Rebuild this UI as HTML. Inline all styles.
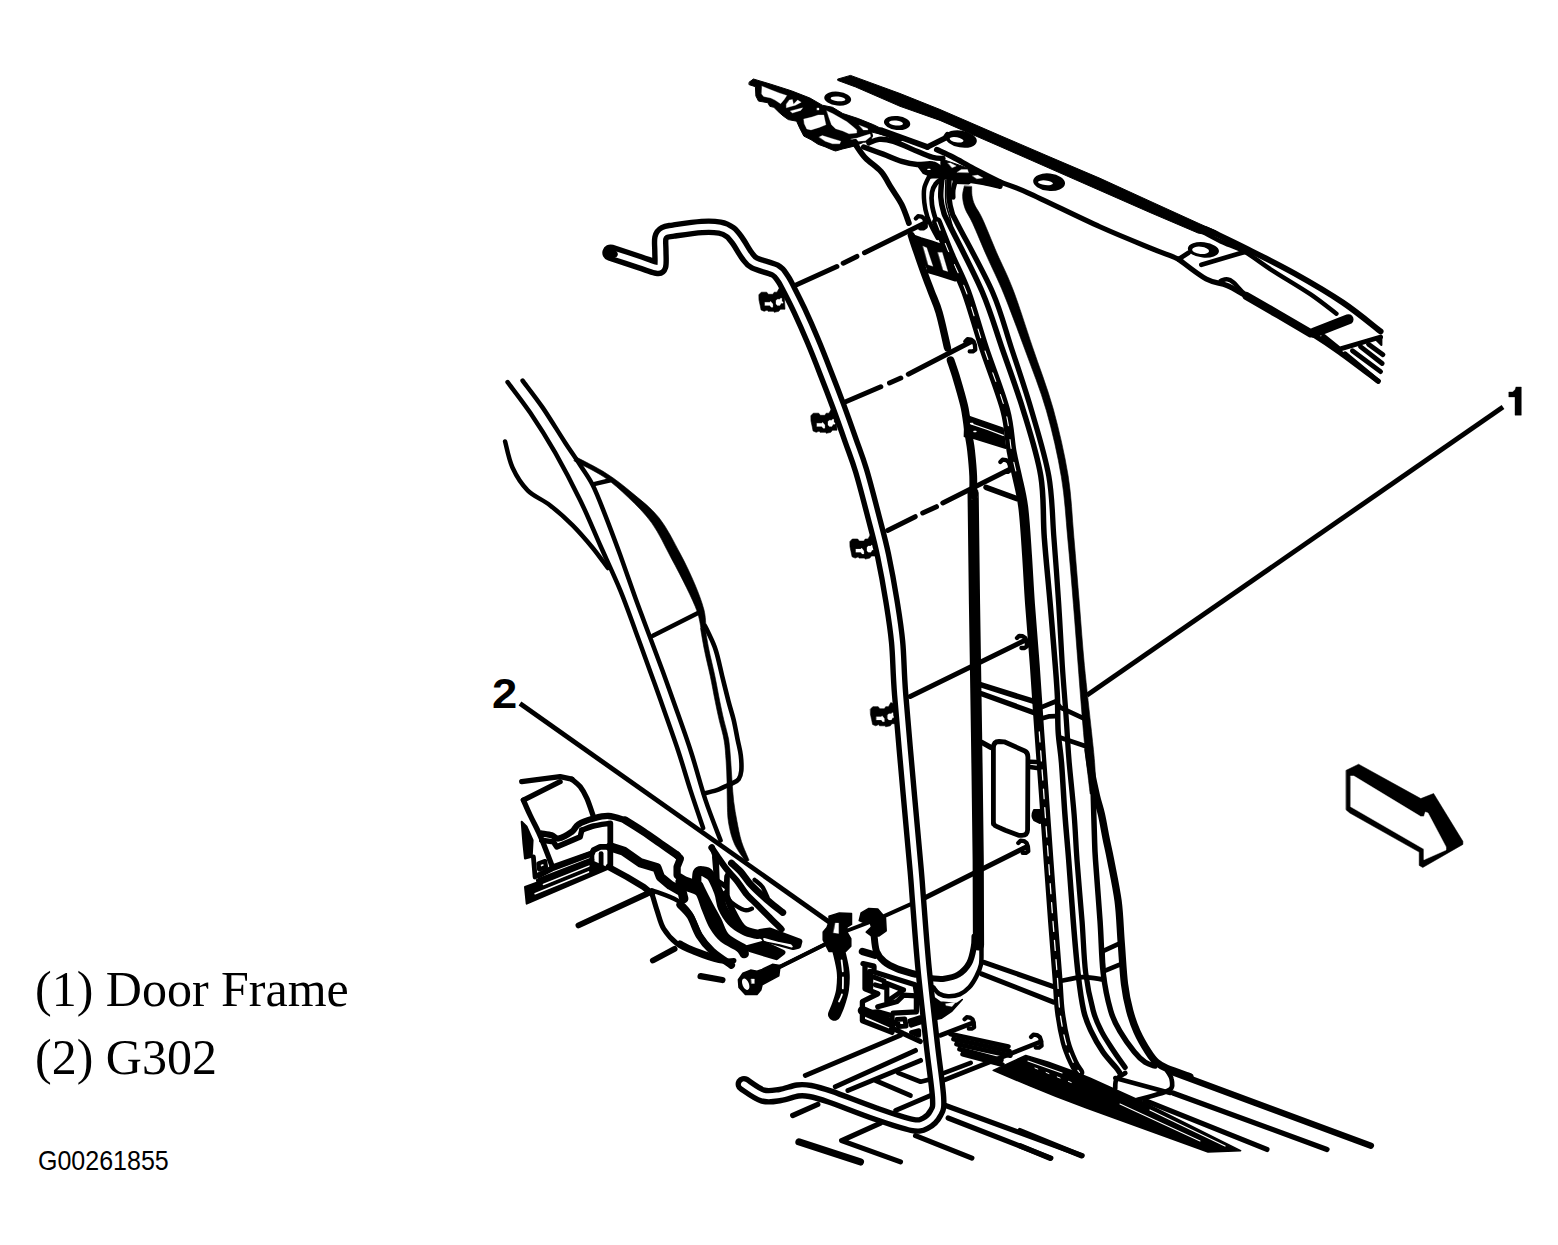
<!DOCTYPE html>
<html><head><meta charset="utf-8">
<style>
html,body{margin:0;padding:0;background:#fff;}
body{width:1558px;height:1245px;overflow:hidden;position:relative;}
svg{position:absolute;left:0;top:0;}
.t{position:absolute;white-space:nowrap;color:#000;line-height:1;}
.serif{font-family:"Liberation Serif",serif;}
.sans{font-family:"Liberation Sans",sans-serif;}
</style></head><body>
<svg width="1558" height="1245" viewBox="0 0 1558 1245" fill="none" stroke="#000" stroke-width="3.5" stroke-linecap="round" stroke-linejoin="round">
<path d="M838 79 L850.5 75.4 L900 93.5 L940 109.5 L1000 135.5 L1050 157 L1100 178.3 L1150 201.2 L1200 224 L1216 231 L1214 236 L1198 233 L1150 212.5 L1100 190.5 L1050 168.5 L1000 146.5 L940 120.4 L900 106.3 L855.7 87 L838 80.5 Z" stroke-width="1" fill="#000" stroke="#000" />
<path d="M1205 229 C1206.5 229.7 1207.4 229.7 1214.3 233 C1221.2 236.3 1233 241.8 1246.4 248.6 C1259.8 255.3 1278.5 264.5 1294.6 273.5 C1310.7 282.5 1328.5 292.9 1342.8 302.5 C1357.1 312.1 1374.3 326.6 1380.6 331.4" stroke-width="5.8999999999999995" fill="none" stroke="#000" />
<path d="M999.9 182 C1004.7 183.8 1011.8 185.6 1028.5 193.1 C1045.2 200.6 1079.7 217.7 1099.9 226.8 C1120.2 235.9 1138.2 243 1150 247.8 C1161.8 252.7 1166.1 254 1170.9 255.9 C1175.7 257.9 1177.7 258.9 1179 259.5" stroke-width="5.1" fill="none" stroke="#000" />
<path d="M1179 259.5 C1183.5 262.8 1198.2 274.7 1206.2 279 C1214.2 283.3 1220.3 282.7 1227 285.5 C1233.7 288.3 1237.8 291.3 1246.4 296 C1255 300.7 1267.8 307.5 1278.5 313.7 C1289.2 319.9 1300.5 326.6 1310.7 333 C1320.9 339.4 1328.3 344.3 1339.6 352.3 C1350.8 360.3 1371.8 376.4 1378.2 381.2" stroke-width="5.3" fill="none" stroke="#000" />
<ellipse cx="837.7" cy="98.6" rx="13.5" ry="7" transform="rotate(6 837.7 98.6)" fill="#000" stroke="none" stroke-width="0"/>
<ellipse cx="838" cy="98.9" rx="7.4" ry="2.3" transform="rotate(6 838 98.9)" fill="#fff" stroke="none" stroke-width="0"/>
<ellipse cx="897.1" cy="123" rx="13.2" ry="7" transform="rotate(6 897.1 123)" fill="#000" stroke="none" stroke-width="0"/>
<ellipse cx="896" cy="123" rx="7" ry="2.5" transform="rotate(6 896 123)" fill="#fff" stroke="none" stroke-width="0"/>
<ellipse cx="961" cy="139" rx="16" ry="8.5" transform="rotate(10 961 139)" fill="#000" stroke="none" stroke-width="0"/>
<ellipse cx="956.6" cy="139.8" rx="7" ry="2.5" transform="rotate(10 956.6 139.8)" fill="#fff" stroke="none" stroke-width="0"/>
<ellipse cx="1049.1" cy="182.2" rx="16" ry="8.7" transform="rotate(6 1049.1 182.2)" fill="#000" stroke="none" stroke-width="0"/>
<ellipse cx="1045.5" cy="182.8" rx="7.5" ry="2.3" transform="rotate(6 1045.5 182.8)" fill="#fff" stroke="none" stroke-width="0"/>
<ellipse cx="1203.4" cy="249.9" rx="15.6" ry="7.7" transform="rotate(6 1203.4 249.9)" fill="#000" stroke="none" stroke-width="0"/>
<ellipse cx="1200.6" cy="250.3" rx="8.5" ry="3.6" transform="rotate(6 1200.6 250.3)" fill="#fff" stroke="none" stroke-width="0"/>
<path d="M1198.2 229.4 C1201.9 231.4 1212.9 237.7 1220.7 241.4 C1228.5 245.2 1236.2 247 1244.8 251.9 C1253.4 256.7 1261.1 263.2 1272.1 270.3 C1283.1 277.4 1300 287.2 1310.7 294.4 C1321.4 301.7 1332.1 310.5 1336.4 313.7" stroke-width="4.5" fill="none" stroke="#000" />
<path d="M1348.4 319.3 L1313.9 332.7" stroke-width="10.3" fill="none" stroke="#000" />
<path d="M1312.3 333 C1306.7 329.8 1289.5 320 1278.5 313.7 C1267.6 307.4 1253.9 300.5 1246.4 295.2 C1238.9 290 1236.8 285.1 1233.5 282.4 C1230.3 279.7 1229.3 279.4 1227.1 279.2 C1225 278.9 1221.8 280.5 1220.7 280.8" stroke-width="4.5" fill="none" stroke="#000" />
<path d="M1246.4 296 L1278.5 314.5 L1310.7 333.3" stroke-width="8.3" fill="none" stroke="#000" />
<path d="M1201.4 264.7 L1236.8 254.3 L1244.8 251.9" stroke-width="4.8" fill="none" stroke="#000" />
<path d="M1178.9 259.1 L1188.6 252.7" stroke-width="4.8" fill="none" stroke="#000" />
<path d="M1323.5 336.2 L1339.6 349.1 L1380.6 337" stroke-width="4.8" fill="none" stroke="#000" />
<path d="M1374.9 338.6 L1381.4 336.5 L1381.4 345 Z" stroke-width="2" fill="#000" stroke="#000" />
<path d="M1345.2 353.9 L1378.1 381.2" stroke-width="4.8" fill="none" stroke="#000" />
<path d="M1352.4 350.7 L1380.6 371.6" stroke-width="4.8" fill="none" stroke="#000" />
<path d="M1360.5 346.7 L1382.2 363.5" stroke-width="4.8" fill="none" stroke="#000" />
<path d="M1368.5 344.2 L1383 354.7" stroke-width="4.8" fill="none" stroke="#000" />
<path d="M749.3 82.1 L753.4 79 L770.8 84.2 L791.4 90.8 L809.9 98 L822.3 105.2 L832.5 107.3 L842.8 113.5 L858.3 118.6 L873.7 124.8 L884 129.9 L884 135.1 L871.6 132 L872.6 136.1 L869.6 141.7 L863.4 142.3 L855.2 145.9 L842.8 148.9 L835.6 151 L832.5 150 L825.3 146.9 L818.1 144.3 L811 139.7 L803.8 136.1 L799.6 127.9 L796.6 121.2 L788.3 119.6 L783.2 116 L779.1 112.4 L773.9 107.3 L769.8 106.3 L767.8 102.7 L758.5 101.1 L755.9 96 L755.4 86.7 L749.3 84.7 Z" stroke-width="1" fill="#000" stroke="#000" />
<path d="M762.1 86.2 L770.8 89.8 L779.1 92.9 L786.8 95.5 L784.2 99.6 L780.6 103.7 L775 100.1 L770.8 98 L763.7 96.5 L761.6 93.9 Z" stroke-width="0.3" fill="#fff" stroke="#fff" />
<path d="M789.4 100.1 L792.4 99.6 L793.5 104.2 L797.6 100.1 L801.2 102.2 L795.5 105.2 L786.3 107.8 L786.3 104.2 Z" stroke-width="0.3" fill="#fff" stroke="#fff" />
<path d="M790.4 110.9 L802.7 107.8 L800.7 110.4 L792.4 113 Z" stroke-width="0.3" fill="#fff" stroke="#fff" />
<path d="M803.8 119.1 L812 117.1 L818.1 115 L823.8 115 L825.9 124.8 L819.2 127.4 L811 129.9 L806.8 128.9 L804.3 123.8 Z" stroke-width="0.3" fill="#fff" stroke="#fff" />
<path d="M826.9 110.9 L832.5 113.5 L838.7 117.1 L846.9 121.7 L853.1 126.8 L856.7 129.9 L856.7 133 L849 133.8 L842.8 131 L835.6 128.7 L831.5 124.8 L828.9 117.6 Z" stroke-width="0.3" fill="#fff" stroke="#fff" />
<path d="M819.2 137.1 L822.3 135.6 L832.5 138.7 L840.8 141.2 L839.7 143.8 L832.5 143.8 L825.3 141.2 Z" stroke-width="0.3" fill="#fff" stroke="#fff" />
<path d="M851.1 139.2 L857.2 138.1 L866.5 135.1 L870.1 134 L870.6 136.6 L865.4 140.7 L858.3 141.2 L856.2 138.7 Z" stroke-width="0.3" fill="#fff" stroke="#fff" />
<path d="M859.3 125.3 L867.5 128.4 L868 129.9 L863.4 129.9 Z" stroke-width="0.3" fill="#fff" stroke="#fff" />
<path d="M817.1 108 L819 108 L819 110.1 L817.1 110.1 Z" stroke-width="0.3" fill="#fff" stroke="#fff" />
<path d="M878.8 131 L899.9 138.7 L881.1 130.1 L927.4 147" stroke-width="5.7" fill="none" stroke="#000" />
<path d="M927.4 147 L944.9 138.3 L947.5 134.7" stroke-width="5.5" fill="none" stroke="#000" />
<path d="M936.7 149.6 C939.4 150.9 946.9 154.1 953.1 157.3 C959.3 160.5 965.9 164.5 973.7 168.6 C981.5 172.7 995.5 179.8 999.9 182" stroke-width="5.5" fill="none" stroke="#000" />
<path d="M868.8 142.9 C870.5 142.3 875 139.6 879.1 139.3 C883.2 139 888 139.7 893.5 141.4 C899 143 905.5 146.4 912 149.1 C918.5 151.7 927.4 155.7 932.5 157.3 C937.7 158.9 941.1 158.3 942.8 158.5" stroke-width="5.3" fill="none" stroke="#000" />
<path d="M942.8 158.3 L942.8 177.9" stroke-width="4.9" fill="none" stroke="#000" />
<path d="M863.7 147 C866.9 148.2 876.8 151.8 883.2 154.2 C889.5 156.6 896 159.7 901.7 161.4 C907.4 163.1 912 164.1 917.1 164.5 C922.3 164.9 928.4 163.1 932.5 164 C936.7 164.8 940.3 168.7 941.8 169.6" stroke-width="5.5" fill="none" stroke="#000" />
<path d="M917.1 165 L932.5 164.3 L941.8 171.7 L929.5 175.8 L923.3 173.2 Z" stroke-width="1.5" fill="#000" stroke="#000" />
<path d="M927.9 169.4 L930 169.4" stroke-width="1.2" fill="none" stroke="#fff" />
<path d="M930.5 175.8 C932.5 175.8 939.1 175.5 942.8 175.8 C946.6 176.2 948.3 177.1 953.1 177.9 C957.9 178.6 966.5 179.7 971.6 180.4 C976.8 181.2 979.2 181.6 984 182.5 C988.7 183.4 997.2 185.5 999.9 186.1" stroke-width="5.7" fill="none" stroke="#000" />
<path d="M942.8 159.4 L973.7 170.2 L999.9 183 L999.9 185.6 L971.6 181 L953.1 178.4 L942.8 176.3 Z" stroke-width="1" fill="#000" stroke="#000" />
<path d="M948 163 L950.5 163 L956.2 166 L952.1 167.8 Z" stroke-width="0.3" fill="#fff" stroke="#fff" />
<path d="M957.2 172.2 L961.3 169.4 L967.5 169.6 L968.5 172.4 Z" stroke-width="0.3" fill="#fff" stroke="#fff" />
<path d="M972.6 175.8 L977.8 175.1 L982.9 177.9 L976.8 178.7 Z" stroke-width="0.3" fill="#fff" stroke="#fff" />
<path d="M856.5 146 C858 148 861.6 154 865.7 158.3 C869.8 162.6 876.8 166.7 881.1 171.7 C885.4 176.7 888 182.7 891.4 188.1 C894.8 193.6 898.8 198.8 901.7 204.6 C904.6 210.4 907.7 220 908.9 223.1" stroke-width="5.7" fill="none" stroke="#000" />
<path d="M911.3 235.4 C912.2 238 914.4 244.8 916.5 250.8 C918.6 256.8 921.2 264.5 923.7 271.4 C926.2 278.3 928.8 285.1 931.4 292 C934 298.9 936.4 303.2 939.1 312.5 C941.8 321.8 946.1 342.1 947.5 348" stroke-width="7.3" fill="none" stroke="#000" />
<path d="M950.6 360.3 C951.6 363.4 954.5 371.4 956.7 378.8 C958.9 386.2 962.4 398.4 963.9 404.6 C965.4 410.8 965.1 410.5 966 415.9 C966.9 421.3 968.1 431.2 969 437 C969.9 442.8 970.4 444.3 971.1 450.8 C971.8 457.3 972.9 468.6 973.2 476 C973.5 483.4 973.1 491.8 973.1 495" stroke-width="7.8" fill="none" stroke="#000" />
<path d="M973.1 493 C973.1 495.3 973.1 488.5 973.3 507 C973.5 525.5 974 566.5 974.5 604 C975 641.5 975.9 689.3 976.5 732 C977.1 774.7 977.9 824.5 978.2 860 C978.5 895.5 978.5 930.8 978.5 945" stroke-width="11.200000000000001" fill="none" stroke="#000" />
<path d="M974.5 936.6 C974.4 938.3 974.7 942.4 973.8 946.8 C973 951.2 971.9 958.3 969.3 962.9 C966.8 967.5 962.6 971.8 958.4 974.5 C954.2 977.1 948.7 978.1 944.3 978.7 C939.9 979.4 934.1 978.4 932.1 978.3" stroke-width="6.1" fill="none" stroke="#000" />
<path d="M981.5 941.7 C981.5 943.1 981.6 946.2 981.5 950.1 C981.4 953.9 981.8 960.4 980.9 964.8 C980 969.2 978.3 972.7 976.4 976.4 C974.5 980.1 972.1 984.3 969.3 987.3 C966.5 990.3 963.2 992.9 959.7 994.4 C956.2 995.9 951.6 996.4 948.1 996.3 C944.7 996.2 941.6 995.3 939.1 993.8 C936.7 992.3 934.3 988.4 933.3 987.3" stroke-width="4.5" fill="none" stroke="#000" />
<path d="M931.4 995.7 L940.4 1002.1 L957.1 1003.4 L962.3 999.5 L952 1011.1 L941.7 1018.2 L933.3 1020.1 Z" stroke-width="1.5" fill="#000" stroke="#000" />
<path d="M945.6 1003.7 L955.8 1002.1 L952 1006.6 L946.2 1005.6 Z" stroke-width="0.3" fill="#fff" stroke="#fff" />
<path d="M929.5 175.8 C928.6 177.9 925.2 183.7 924.3 188.1 C923.5 192.6 923.8 197.7 924.3 202.5 C924.8 207.3 926 212.7 927.4 216.9 C928.8 221.2 930.8 224.7 932.5 228.3 C934.3 231.8 936.8 236.4 937.7 238" stroke-width="4.5" fill="none" stroke="#000" />
<path d="M942.8 177.9 C941.6 178.9 937.4 181.6 935.6 184 C933.8 186.4 932.6 188.8 932 192.3 C931.4 195.7 931.4 200.1 932 204.6 C932.6 209.1 934.2 214.7 935.6 219 C937.1 223.3 939.9 228.4 940.8 230.3" stroke-width="4.7" fill="none" stroke="#000" />
<path d="M937 222 C939.2 227.5 945.1 243.3 950 255 C954.9 266.7 960.6 276.5 966.3 292 C972 307.5 977.5 328.4 984 348 C990.5 367.6 1000.5 392.6 1005.1 409.7 C1009.7 426.8 1009.5 439.8 1011.5 450.8 C1013.5 461.9 1015 466.6 1017 476 C1019 485.4 1021.5 493.8 1023.2 507 C1024.9 520.2 1025.9 538.8 1027 555 C1028.1 571.2 1028.7 585.5 1030 604 C1031.3 622.5 1033.2 644.4 1034.8 665.7 C1036.3 687 1037.8 710.7 1039.3 732 C1040.8 753.3 1042.3 772.4 1043.8 793.7 C1045.3 815 1047 838.7 1048.5 860 C1050 881.3 1051.5 901.9 1053 921.7 C1054.5 941.5 1056.4 964.1 1057.5 979 C1058.6 993.9 1058.5 1000.3 1059.8 1010.8 C1061.1 1021.2 1063.3 1033.1 1065.5 1041.7 C1067.7 1050.3 1070.9 1057.2 1073.2 1062.3 C1075.5 1067.4 1078.4 1070.8 1079.4 1072.5" stroke-width="9.9" fill="none" stroke="#000" />
<path d="M937 222 C939.2 227.5 945.1 243.3 950 255 C954.9 266.7 960.6 276.5 966.3 292 C972 307.5 977.5 328.4 984 348 C990.5 367.6 1000.5 392.6 1005.1 409.7 C1009.7 426.8 1009.5 439.8 1011.5 450.8 C1013.5 461.9 1016.1 471.8 1017 476" stroke-width="1.1" fill="none" stroke="#fff" stroke-dasharray="9 14"/>
<path d="M1039.3 732 C1040 742.3 1042.3 772.4 1043.8 793.7 C1045.3 815 1047 838.7 1048.5 860 C1050 881.3 1051.5 901.9 1053 921.7 C1054.5 941.5 1056.4 964.1 1057.5 979 C1058.6 993.9 1058.5 1000.3 1059.8 1010.8 C1061.1 1021.2 1063.3 1033.1 1065.5 1041.7 C1067.7 1050.3 1070.9 1057.2 1073.2 1062.3 C1075.5 1067.4 1078.4 1070.8 1079.4 1072.5" stroke-width="1.3" fill="none" stroke="#fff" stroke-dasharray="10 9"/>
<path d="M941.8 180 C941.6 182.9 940.4 191.9 940.8 197.4 C941.1 202.9 942.5 208.4 943.9 212.8 C945.3 217.2 942.6 210.8 949 224 C955.4 237.2 973.5 271.3 982.3 292 C991.1 312.7 995.2 328.4 1002 348 C1008.8 367.6 1016.6 388.4 1023.1 409.7 C1029.6 431 1037.3 454.7 1040.8 476 C1044.3 497.3 1042.7 516.4 1044.3 537.7 C1045.9 559 1048.4 582.7 1050.2 604 C1052 625.3 1054.1 650.3 1055.3 665.7 C1056.5 681.1 1056.9 685.5 1057.4 696.5 C1057.9 707.5 1057.5 721 1058.2 732 C1058.9 743 1060.4 749.1 1061.5 762.8 C1062.6 776.5 1063.7 798.1 1064.9 814.3 C1066.1 830.5 1067.3 842.1 1068.7 860 C1070.1 877.9 1071.8 902.9 1073.3 921.7 C1074.8 940.5 1076.3 958.1 1078 973 C1079.7 987.9 1081.5 1001.1 1083.7 1010.8 C1085.9 1020.5 1088 1024.5 1091.2 1031.4 C1094.4 1038.3 1098.9 1046 1103 1052 C1107.1 1058 1113.2 1064 1115.9 1067.4 C1118.7 1070.8 1118.9 1071.7 1119.5 1072.5" stroke-width="5.5" fill="none" stroke="#000" />
<path d="M949 180 C949 182.9 948.5 191.9 949 197.4 C949.5 202.9 950.7 208.4 952.1 212.8 C953.5 217.2 950.8 210.8 957.5 224 C964.2 237.2 983.5 271.3 992.5 292 C1001.5 312.7 1004.9 328.4 1011.4 348 C1017.9 367.6 1025.1 388.4 1031.3 409.7 C1037.5 431 1045 454.7 1048.8 476 C1052.6 497.3 1052.2 516.4 1053.9 537.7 C1055.6 559 1057.3 582.7 1058.7 604 C1060.1 625.3 1061.2 648.6 1062.3 665.7 C1063.4 682.8 1064.6 695.8 1065.4 706.8 C1066.2 717.8 1066.5 722.7 1067.1 732 C1067.7 741.3 1068 749.1 1069.2 762.8 C1070.4 776.5 1072.8 798.1 1074.1 814.3 C1075.4 830.5 1075.7 842.1 1077 860 C1078.3 877.9 1080.6 902.9 1082.1 921.7 C1083.5 940.5 1083.8 958.1 1085.7 973 C1087.6 987.9 1090.6 1001.1 1093.2 1010.8 C1095.8 1020.5 1098 1024.5 1101.5 1031.4 C1105 1038.3 1110.4 1046 1114.3 1052 C1118.2 1058 1123.3 1064.8 1125.1 1067.4" stroke-width="5.3" fill="none" stroke="#000" />
<path d="M945.9 179.9 C945.9 183.7 945.2 196.2 945.9 202.5 C946.6 208.9 948.5 212.1 950 218 C951.6 223.9 954.3 234.7 955.2 238" stroke-width="1.6" fill="none" stroke="#000" />
<path d="M955.2 181.5 L968.5 182" stroke-width="4.9" fill="none" stroke="#000" />
<path d="M955.2 181.5 C954.8 182.9 953.5 187.5 953.1 190.2 C952.8 192.9 953.1 196.2 953.1 197.4" stroke-width="4.9" fill="none" stroke="#000" />
<path d="M964.3 186.2 C964 187.9 962.4 192.7 962.6 196.5 C962.7 200.2 963.6 204.5 965.2 208.9 C966.9 213.4 968.9 215.2 972.6 223.2 C976.3 231.3 982 245.3 987.2 257.1 C992.4 268.9 997.5 278.5 1003.8 293.9 C1010 309.2 1017.7 329.9 1024.8 349.3 C1031.9 368.8 1040.3 389.4 1046.4 410.7 C1052.5 431.9 1057.8 455.3 1061.3 476.6 C1064.9 497.8 1065.7 516.7 1067.7 538 C1069.7 559.3 1071.7 582.9 1073.4 604.2 C1075.2 625.6 1076.5 644.6 1078.2 666 C1079.8 687.3 1082.1 716.2 1083.5 732.4 C1084.9 748.6 1085.5 752.9 1086.6 763.2 C1087.7 773.4 1089.6 788.8 1090.2 794 L1096.2 793.4 C1095.9 788.3 1095.4 772.7 1094.6 762.4 C1093.8 752.1 1093.2 747.8 1091.5 731.6 C1089.8 715.5 1086.5 686.7 1084.4 665.4 C1082.4 644.1 1081.1 625.1 1079.4 603.8 C1077.6 582.4 1075.8 558.8 1073.9 537.4 C1072 516 1071.5 496.9 1068.1 475.4 C1064.6 454 1059.1 430.2 1053.2 408.7 C1047.2 387.3 1039 366.4 1032.4 346.7 C1025.7 326.9 1019.2 305.8 1013.2 290.1 C1007.3 274.5 1002 264.8 996.8 252.9 C991.7 241 986.1 226.7 982.4 218.8 C978.7 210.8 976.5 208.9 974.8 205.1 C973 201.2 972.5 198.6 972 195.5 C971.5 192.5 971.8 188.2 971.7 186.8 Z" stroke-width="0.6" fill="#000" stroke="#000"/>
<path d="M1093.2 793.7 C1093.4 800.6 1094 823.8 1094.4 834.8 C1094.8 845.8 1094.5 845.5 1095.5 860 C1096.5 874.5 1098.8 902.9 1100.1 921.7 C1101.4 940.5 1101.4 958.1 1103.2 973 C1105 987.9 1107.9 1001.1 1110.7 1010.8 C1113.5 1020.5 1116 1024.5 1120 1031.4 C1124 1038.3 1130.2 1046.8 1134.4 1052 C1138.6 1057.2 1141.8 1060 1145.2 1062.3 C1148.6 1064.6 1153.4 1065.4 1155 1066" stroke-width="5.5" fill="none" stroke="#000" />
<path d="M1088 750 C1088.5 753.3 1089.6 762.3 1091 770 C1092.4 777.7 1094.8 788.6 1096.5 796 C1098.2 803.4 1099.8 807.3 1101.4 814.3 C1103 821.3 1104.5 830.4 1106 838 C1107.5 845.6 1108.6 849.5 1110.6 860 C1112.6 870.5 1116.3 887.4 1118.1 901.1 C1119.9 914.8 1120.1 928.5 1121.2 942.3 C1122.3 956.1 1123.1 972.6 1124.5 984 C1125.9 995.4 1127.6 1002.9 1129.7 1010.8 C1131.8 1018.7 1133.8 1024.5 1136.9 1031.4 C1140 1038.3 1145 1046.8 1148.3 1052 C1151.6 1057.2 1153.4 1059.6 1156.5 1062.3 C1159.6 1065 1161.2 1066 1166.8 1068.4 C1172.4 1070.8 1186.1 1075.3 1189.9 1076.7" stroke-width="7.3" fill="none" stroke="#000" />
<path d="M507.6 382.1 C511.3 387.2 522.2 400.9 530.1 412.6 C538.1 424.4 546.8 438.1 555.2 452.7 C563.5 467.4 572.7 484.9 580.3 500.4 C587.8 515.8 593.6 530.4 600.3 545.5 C607 560.5 614.5 576.4 620.4 590.6 C626.2 604.8 630.4 617.1 635.4 630.7 C640.4 644.3 646.2 660.5 650.4 672 C654.6 683.6 655.9 687.1 660.5 700.1 C665 713.2 673 735.2 678 750.3 C683 765.3 686.3 777.4 690.5 790.4 C694.7 803.3 701 821.7 703.1 827.9" stroke-width="4.5" fill="none" stroke="#000" />
<path d="M522.6 380.6 C525.9 385.1 535.6 397.3 542.7 407.6 C549.8 418 558.9 433.1 565.2 442.7 C571.5 452.3 575.7 458.2 580.3 465.3 C584.8 472.4 588.6 477 592.8 485.3 C597 493.7 600.7 503.7 605.3 515.4 C609.9 527.1 615.3 541.7 620.4 555.5 C625.4 569.3 630.4 584.3 635.4 598.1 C640.4 611.9 645.8 625.9 650.4 638.2 C655 650.5 659.2 661.7 663 672 C666.7 682.4 668.4 687.1 673 700.1 C677.6 713.2 685.1 733.5 690.5 750.3 C696 767 700.6 785.3 705.6 800.4 C710.6 815.4 718.1 833.8 720.6 840.5" stroke-width="4.5" fill="none" stroke="#000" />
<path d="M505.1 441.5 C506.3 445.8 508.8 459.6 512.6 467.8 C516.3 475.9 521.4 484.1 527.6 490.3 C533.9 496.6 542.7 499.5 550.2 505.4 C557.7 511.2 565.6 518.3 572.7 525.4 C579.8 532.5 586.9 540.9 592.8 548 C598.6 555.1 605.3 564.7 607.8 568" stroke-width="4.5" fill="none" stroke="#000" />
<path d="M574.2 460.9 C579.2 463.6 595.1 471 604.1 477.1 C613.1 483.2 620.4 489.9 628.4 497.6 C636.3 505.2 644.7 513.1 651.8 523.1 C659 533.1 665.3 547.1 671.1 557.9 C676.9 568.6 682.1 578.5 686.4 587.4 C690.8 596.4 694.8 604.8 697.2 611.6 C699.6 618.5 700.4 625.6 701 628.4 L706 627.6 C705.6 624.6 705.8 616.9 703.9 609.6 C702 602.3 698.6 593.1 694.6 583.7 C690.6 574.3 685.8 564.1 679.9 553.1 C674 542.1 667 527.7 659 517.7 C651.1 507.7 641.1 500.5 632.4 493.1 C623.6 485.7 615.9 479.5 606.5 473.5 C597.2 467.4 581.3 459.8 576.3 457.1 Z" stroke-width="0.6" fill="#000" stroke="#000"/>
<path d="M594 484.1 L610.3 480.3" stroke-width="4.5" fill="none" stroke="#000" />
<path d="M652.9 635.7 L698 613.1" stroke-width="4.5" fill="none" stroke="#000" />
<path d="M700.6 628.4 C701.2 632.1 702.9 642.5 704.5 650.4 C706.1 658.4 708.5 667.6 710.3 676.2 C712.1 684.7 713.8 694.5 715.3 701.8 C716.8 709.2 717.8 714.1 719.3 720.5 C720.8 726.9 723 733.7 724.1 740.4 C725.3 747.1 725.6 754 726.1 760.8 C726.6 767.6 726.8 774.4 727 781.2 C727.2 788.1 727 795 727.3 802 C727.5 808.9 727.4 816 728.6 823.1 C729.8 830.1 731.6 837.7 734.5 844.1 C737.4 850.6 744 858.9 745.9 861.8 L749.1 860.2 C747.8 857.1 743.5 847.9 741.5 841.5 C739.5 835 738.3 828.2 737 821.5 C735.7 814.9 734.6 808.2 733.7 801.4 C732.9 794.7 732.5 787.8 732 781 C731.5 774.1 731.2 767.3 730.7 760.4 C730.1 753.5 729.8 746.4 728.7 739.6 C727.5 732.8 725.2 725.9 723.7 719.5 C722.2 713.1 721.2 708.3 719.7 701 C718.2 693.6 716.5 683.8 714.7 675.2 C712.9 666.7 710.5 657.5 708.9 649.6 C707.3 641.6 705.7 631.3 705 627.6 Z" stroke-width="0.6" fill="#000" stroke="#000"/>
<path d="M705 626 C705.5 627 706.2 628 708 632 C709.8 636 713.4 642.7 715.7 650 C718.1 657.3 720 667.1 722.1 675.7 C724.2 684.3 726.6 694 728.5 701.4 C730.4 708.8 732.2 713.6 733.7 720 C735.2 726.4 736.5 734.1 737.7 740 C738.9 745.9 740.2 750.3 740.8 755.4 C741.4 760.5 741.6 766.8 741.3 770.8 C740.9 774.8 740.2 777 738.7 779.1 C737.2 781.2 734.7 782 732.5 783.2 C730.3 784.4 728 785.1 725.3 786.3 C722.6 787.5 719.7 789.2 716.1 790.4 C712.5 791.6 705.8 793 703.8 793.5" stroke-width="4.6" fill="none" stroke="#000" />
<line x1="1503" y1="407" x2="1086.9" y2="695.2" stroke-width="4.9" stroke-linecap="butt"/>
<line x1="520" y1="703.5" x2="830.9" y2="923.2" stroke-width="4.8" stroke-linecap="butt"/>
<line x1="795.5" y1="285.3" x2="836.9" y2="266.5" stroke-width="5.0" />
<line x1="843.2" y1="263.2" x2="856.9" y2="256.4" stroke-width="5.0" />
<line x1="864.5" y1="252.7" x2="925.9" y2="222.6" stroke-width="5.0" />
<line x1="845.7" y1="401.8" x2="880.8" y2="386.8" stroke-width="5.0" />
<line x1="889.5" y1="383" x2="900.8" y2="378" stroke-width="5.0" />
<line x1="908.3" y1="374.2" x2="971" y2="341.7" stroke-width="5.0" />
<line x1="887.6" y1="530.5" x2="915.2" y2="516.7" stroke-width="5.0" />
<line x1="922.7" y1="513" x2="936.5" y2="506.7" stroke-width="5.0" />
<line x1="942.8" y1="502.9" x2="1010.4" y2="469.1" stroke-width="5.0" />
<line x1="910.2" y1="696.4" x2="1025.5" y2="640.1" stroke-width="5.0" />
<line x1="924" y1="898.2" x2="1026.7" y2="846.8" stroke-width="5.0" />
<path d="M1346.2 770.3 L1358.6 764.2 L1420.8 798.6 L1433.6 793.5 L1462.9 841.3 L1462.9 844.4 L1422.8 867.5 L1419.2 865.4 L1419.2 852.1 L1349.8 813 L1346.2 809.9 Z" stroke-width="0.5" fill="#000" stroke="#000" />
<path d="M1350.8 776 L1353.9 776 L1420.8 816.6 L1423.9 816.6 L1425.4 812 L1428 813 L1446 846.9 L1446 850 L1423.9 859.8 L1423.9 849 L1350.8 806.8 Z" stroke-width="0.5" fill="#fff" stroke="#fff" />
<path d="M759 294.6 L761.3 292.2 L766.7 292.2 L768.3 294.3 L772.9 294.3 L774.2 292.2 L777 292.2 L779.3 288.1 L784 290.2 L785 309.2 L780.4 309.2 L778.8 311.3 L774.2 312.3 L773.7 311.3 L768 311.3 L767.3 310 L764.2 311.3 L761.1 310 L760.1 305.1 L759 300 Z" stroke-width="0.6" fill="#000" stroke="#000" />
<path d="M764.9 302.3 L769.8 302.3 L770.6 301.2 L771.9 302.8 L772.9 304.1 L772.9 307.2 L771.1 307.2 L769.8 305.4 L764.9 305.4 Z" stroke-width="0.2" fill="#fff" stroke="#fff" />
<path d="M776 300.5 L777.3 299.2 L779.9 299.2 L780.4 298.2 L781.9 298.2 L781.9 301.2 L783.2 302 L782.9 303.3 L781.1 303.3 L779.9 305.4 L777.3 305.4 L776 304.1 Z" stroke-width="0.2" fill="#fff" stroke="#fff" />
<path d="M811 415.6 L813.3 413.2 L818.7 413.2 L820.3 415.3 L824.9 415.3 L826.2 413.2 L829 413.2 L831.3 409.1 L836 411.2 L837 430.2 L832.4 430.2 L830.8 432.3 L826.2 433.3 L825.7 432.3 L820 432.3 L819.3 431 L816.2 432.3 L813.1 431 L812.1 426.1 L811 421 Z" stroke-width="0.6" fill="#000" stroke="#000" />
<path d="M816.9 423.3 L821.8 423.3 L822.6 422.2 L823.9 423.8 L824.9 425.1 L824.9 428.2 L823.1 428.2 L821.8 426.4 L816.9 426.4 Z" stroke-width="0.2" fill="#fff" stroke="#fff" />
<path d="M828 421.5 L829.3 420.2 L831.9 420.2 L832.4 419.2 L833.9 419.2 L833.9 422.2 L835.2 423 L834.9 424.3 L833.1 424.3 L831.9 426.4 L829.3 426.4 L828 425.1 Z" stroke-width="0.2" fill="#fff" stroke="#fff" />
<path d="M850 541.4 L852.3 539 L857.7 539 L859.3 541.1 L863.9 541.1 L865.2 539 L868 539 L870.3 534.9 L875 537 L876 556 L871.4 556 L869.8 558.1 L865.2 559.1 L864.7 558.1 L859 558.1 L858.3 556.8 L855.2 558.1 L852.1 556.8 L851.1 551.9 L850 546.8 Z" stroke-width="0.6" fill="#000" stroke="#000" />
<path d="M855.9 549.1 L860.8 549.1 L861.6 548 L862.9 549.6 L863.9 550.9 L863.9 554 L862.1 554 L860.8 552.2 L855.9 552.2 Z" stroke-width="0.2" fill="#fff" stroke="#fff" />
<path d="M867 547.3 L868.3 546 L870.9 546 L871.4 545 L872.9 545 L872.9 548 L874.2 548.8 L873.9 550.1 L872.1 550.1 L870.9 552.2 L868.3 552.2 L867 550.9 Z" stroke-width="0.2" fill="#fff" stroke="#fff" />
<path d="M870.5 709.1 L872.8 706.7 L878.2 706.7 L879.8 708.8 L884.4 708.8 L885.7 706.7 L888.5 706.7 L890.8 702.6 L895.5 704.7 L896.5 723.7 L891.9 723.7 L890.3 725.8 L885.7 726.8 L885.2 725.8 L879.5 725.8 L878.8 724.5 L875.7 725.8 L872.6 724.5 L871.6 719.6 L870.5 714.5 Z" stroke-width="0.6" fill="#000" stroke="#000" />
<path d="M876.4 716.8 L881.3 716.8 L882.1 715.7 L883.4 717.3 L884.4 718.6 L884.4 721.7 L882.6 721.7 L881.3 719.9 L876.4 719.9 Z" stroke-width="0.2" fill="#fff" stroke="#fff" />
<path d="M887.5 715 L888.8 713.7 L891.4 713.7 L891.9 712.7 L893.4 712.7 L893.4 715.7 L894.7 716.5 L894.4 717.8 L892.6 717.8 L891.4 719.9 L888.8 719.9 L887.5 718.6 Z" stroke-width="0.2" fill="#fff" stroke="#fff" />
<path d="M912.3 236.5 L920.6 239.5 L930.8 242.6 L940.1 245.7" stroke-width="4.9" fill="none" stroke="#000" />
<path d="M915.4 240.6 L940.1 246.2 L949.4 253.9 L957.6 277.6 L939.1 274 L928.8 270.9 L920.6 256 Z" stroke-width="1.5" fill="#000" stroke="#000" />
<path d="M923.1 246.2 L926.7 247.8 L932.9 266.3 L928.3 264.7 Z" stroke-width="0.3" fill="#fff" stroke="#fff" />
<path d="M938 252.4 L942.2 252.4 L947.8 271.4 L943.2 269.9 Z" stroke-width="0.3" fill="#fff" stroke="#fff" />
<path d="M928.8 270.9 L939.1 274 L955.5 279.1" stroke-width="4.9" fill="none" stroke="#000" />
<path d="M965 416.4 L969.1 416.4 L1003 428.2 L1005.6 448.3 L971.1 437.5 L964.4 436.4 Z" stroke-width="1.5" fill="#000" stroke="#000" />
<path d="M971.1 423.8 L987.6 429.5 L1003.2 435.4" stroke-width="1.3" fill="none" stroke="#fff" />
<path d="M970.6 423.6 L972.7 423.6" stroke-width="1.5" fill="none" stroke="#fff" />
<path d="M974 431.5 L975.9 431.5" stroke-width="1.5" fill="none" stroke="#fff" />
<path d="M986 487.3 L1016.8 498.6" stroke-width="5.5" fill="none" stroke="#000" />
<path d="M980.4 684.7 L1038 702.7" stroke-width="5.6" fill="none" stroke="#000" />
<path d="M981.6 693.7 L1035.5 713.2" stroke-width="5.2" fill="none" stroke="#000" />
<path d="M1040.5 707.7 L1055.5 701.5 L1060.6 707.7 L1083.1 718.2" stroke-width="4.7" fill="none" stroke="#000" />
<path d="M1043.3 718.1 L1049.5 716.3 L1055.6 716.1" stroke-width="4.7" fill="none" stroke="#000" />
<path d="M1060.6 737.8 L1084.4 745.8" stroke-width="4.7" fill="none" stroke="#000" />
<path d="M993.4,824 L993.4,748 Q993.4,741.5 999,741.5 L1004.2,741.8 L1024.8,751 Q1027.9,752.5 1027.9,757 L1027.6,830 Q1027.4,835.3 1022,835.3 L1018.6,835.3 L1005.2,830.2 L996,826.1 Q993.4,825 993.4,822 Z" stroke-width="4.8"/>
<path d="M981.6 742.3 L990.8 747.4" stroke-width="5.3" fill="none" stroke="#000" />
<path d="M1030 761.8 L1036 762" stroke-width="4.5" fill="none" stroke="#000" />
<path d="M1030 767 L1037 768" stroke-width="4.5" fill="none" stroke="#000" />
<path d="M1040,810 L1034,810 Q1031,816 1034,820 L1040,823 Z" fill="#000" stroke-width="2"/>
<path d="M1061.4 980.8 C1064.9 980.2 1075.8 977.5 1082.7 977.2 C1089.5 977 1099.4 979.1 1102.7 979.5" stroke-width="4.7" fill="none" stroke="#000" />
<path d="M1104 950.7 L1120.3 943.2" stroke-width="4.7" fill="none" stroke="#000" />
<path d="M1105.2 970.7 L1119.7 964.7" stroke-width="4.7" fill="none" stroke="#000" />
<path d="M1102.7 952.7 L1104 979" stroke-width="4.3" fill="none" stroke="#000" />
<path d="M1125.3 1073 C1123.8 1074 1118.2 1076.7 1116.5 1079.2 C1114.8 1081.8 1115.4 1087 1115.2 1088.5" stroke-width="4.7" fill="none" stroke="#000" />
<path d="M1167.9 1071.7 C1168.5 1073 1171.1 1076.4 1171.6 1079.2 C1172.2 1082 1173 1086.1 1171.1 1088.5 C1169.2 1090.9 1166.7 1091.4 1160.4 1093.5 C1154 1095.6 1138.8 1099.4 1132.8 1101.1 C1126.7 1102.7 1125.5 1103.1 1124 1103.6" stroke-width="4.7" fill="none" stroke="#000" />
<path d="M1115.2 1078 L1170.4 1093" stroke-width="4.5" fill="none" stroke="#000" />
<path d="M1082.7 1078 L1095.2 1088 L1125.3 1098" stroke-width="4.5" fill="none" stroke="#000" />
<path d="M1167.9 1070.5 L1370.9 1145.7" stroke-width="6.3" fill="none" stroke="#000" />
<path d="M1172.9 1093 L1327 1149.4" stroke-width="5.3" fill="none" stroke="#000" />
<path d="M1145.3 1100.6 L1266.9 1149.4" stroke-width="5.3" fill="none" stroke="#000" />
<path d="M993.2 1070.4 L1025.8 1055.4 L1048.5 1062.3 L1071.1 1070.5 L1089.7 1078 L1145 1103 L1240.6 1150.7 L1208 1152 L1086.6 1108 L1055.7 1096.2 L1030 1085.9 Z" stroke-width="1.5" fill="#000" stroke="#000" />
<path d="M1150 1110 L1225 1146" stroke-width="1.3" fill="none" stroke="#fff" />
<path d="M1120 1104 L1200 1141" stroke-width="1.1" fill="none" stroke="#fff" />
<path d="M1035 1068 L1075 1084" stroke-width="1" fill="none" stroke="#fff" stroke-dasharray="3 9"/>
<path d="M1028 1061 L1062 1073" stroke-width="1.2" fill="none" stroke="#fff" />
<path d="M1020 1130.6 L1081.4 1155.7" stroke-width="5.3" fill="none" stroke="#000" />
<path d="M1020 1145.7 L1050.1 1158.2" stroke-width="5.3" fill="none" stroke="#000" />
<path d="M984.1 962.3 L1053.5 986.7" stroke-width="5.0" fill="none" stroke="#000" />
<path d="M981.5 973.8 L1053.5 1002.1" stroke-width="5.0" fill="none" stroke="#000" />
<path d="M943.1 1080.5 L1040.9 1041.6" stroke-width="4.7" fill="none" stroke="#000" />
<path d="M940.6 1035.3 L973.2 1022.8" stroke-width="4.7" fill="none" stroke="#000" />
<path d="M805.3 1075.4 L900.5 1035.3" stroke-width="4.9" fill="none" stroke="#000" />
<path d="M847.9 1090.5 L920.6 1060.4" stroke-width="4.9" fill="none" stroke="#000" />
<path d="M835.3 1086.7 L915.5 1050.4" stroke-width="4.9" fill="none" stroke="#000" />
<path d="M875.4 1080.5 L910.5 1095.5" stroke-width="4.7" fill="none" stroke="#000" />
<path d="M898 1072.9 L920.6 1081.7 L930.6 1079.2" stroke-width="4.7" fill="none" stroke="#000" />
<path d="M895.5 1110.5 L930.6 1095.5" stroke-width="4.7" fill="none" stroke="#000" />
<path d="M944.4 1072.9 L970.7 1062.9" stroke-width="4.7" fill="none" stroke="#000" />
<path d="M945.6 1105.5 L1082.2 1155.6" stroke-width="5.1" fill="none" stroke="#000" />
<path d="M948.1 1118 L1050.9 1158.1" stroke-width="5.1" fill="none" stroke="#000" />
<path d="M915.5 1135.6 L971.9 1158.1" stroke-width="5.1" fill="none" stroke="#000" />
<path d="M880.5 1123.1 L841.6 1140.6 L900.5 1161.9" stroke-width="5.1" fill="none" stroke="#000" />
<path d="M799 1141.9 L860.4 1161.9" stroke-width="7.3" fill="none" stroke="#000" />
<path d="M792.7 1115.5 L817.8 1104.3" stroke-width="5.3" fill="none" stroke="#000" />
<path d="M950.6 1034.1 L1008.3 1046.6" stroke-width="4.9" fill="none" stroke="#000" />
<path d="M953.6 1039.1 L1009.3 1051.1" stroke-width="4.9" fill="none" stroke="#000" />
<path d="M956.6 1044.1 L1010.3 1055.6" stroke-width="4.9" fill="none" stroke="#000" />
<path d="M959.6 1049.1 L1001.3 1060.2" stroke-width="4.9" fill="none" stroke="#000" />
<path d="M962.7 1054.1 L1002.3 1064.7" stroke-width="4.9" fill="none" stroke="#000" />
<path d="M780.1 966.8 L834.1 939.8 L847 930.8 L870.1 921.9" stroke-width="3.9000000000000004" fill="none" stroke="#000" />
<path d="M884.2 916.1 L908.7 905.1 L922.8 898.7" stroke-width="3.9000000000000004" fill="none" stroke="#000" />
<path d="M738.4 979.7 L742.9 973.3 L750.6 970.1 L757 971.3 L762.1 969.4 L772.4 964.3 L780.1 965.6 L778.8 975.8 L762.1 984.8 L760.8 990 L757 994.5 L745.4 994.5 L739 987.4 Z" stroke-width="1.5" fill="#000" stroke="#000" />
<ellipse cx="745.7" cy="984.2" rx="3.2" ry="6" transform="rotate(-22 745.7 984.2)" fill="#fff" stroke="none" stroke-width="0"/>
<path d="M751.2 979 L754.4 979 L754.4 983.5 L751.6 983.5 Z" stroke-width="0.3" fill="#fff" stroke="#fff" />
<path d="M829 916.1 L839.3 912.9 L851.5 913.5 L851.5 924.4 L847 927 L847 932.1 L850.8 938.6 L850.8 946.3 L845.7 951.4 L829 951.4 L823.2 939.8 L823.2 932.1 L827 927.6 L829 921.9 Z" stroke-width="1.5" fill="#000" stroke="#000" />
<path d="M835.4 923.1 L838.6 923.1 L838.6 933.4 L833.5 932.8 Z" stroke-width="0.3" fill="#fff" stroke="#fff" />
<path d="M780.1 966.8 L835.4 939.2" stroke-width="3.9000000000000004" fill="none" stroke="#000" />
<path d="M838.6 950.1 C839.4 953.8 842.5 965.3 843.1 972 C843.8 978.6 843.2 984.6 842.5 990 C841.7 995.3 840 1000 838.6 1004.1 C837.3 1008.2 835.1 1012.7 834.4 1014.4" stroke-width="12.8" fill="none" stroke="#000" />
<path d="M841.6 960.4 C841.8 962.6 842.7 968 842.9 973.3 C843 978.5 843.1 987.2 842.5 991.9 C841.8 996.6 839.6 999.9 839 1001.5" stroke-width="1.8" fill="none" stroke="#fff" stroke-dasharray="11 6"/>
<path d="M861.1 912.9 L868.8 908.4 L877.8 909 L885.5 918 L886.2 930.8 L879.1 936 L871.4 936 L866.2 932.1 L871.4 927 L870.1 921.9 L863.7 922.5 L859.2 920.6 Z" stroke-width="1.5" fill="#000" stroke="#000" />
<path d="M874 934.7 C874.4 937.5 874.8 946.9 876.5 951.4 C878.2 955.9 880.8 958.8 884.2 961.7 C887.7 964.6 892 966.7 897.1 968.8 C902.2 970.9 912.1 973.4 915.1 974.3" stroke-width="6.8999999999999995" fill="none" stroke="#000" />
<path d="M862.4 951.4 L875.2 955.3" stroke-width="7.3" fill="none" stroke="#000" />
<path d="M863 963.6 L874 966.2 L874 972 L915.1 984.8 L916.4 992.5" stroke-width="5.3" fill="none" stroke="#000" />
<path d="M865 966.8 L865 988.7 L877.8 993.8 L862.4 1001.5 L862.4 1020.8 L892 1032.4 L892 1015.7 L877.8 1011.8 L865 1013.1" stroke-width="5.3" fill="none" stroke="#000" />
<path d="M870.1 972 L870.1 987.4" stroke-width="6.3" fill="none" stroke="#000" />
<path d="M874 977.1 L884.2 981 L884.2 987.4 L875.2 984.8" stroke-width="4.9" fill="none" stroke="#000" />
<path d="M886.8 983.5 L903.5 990 L886.8 1001.5 Z" stroke-width="5.1" fill="none" stroke="#000" />
<path d="M877.8 1006.7 L897.1 1001.5 L903.5 995.1 L916.4 995.8" stroke-width="5.3" fill="none" stroke="#000" />
<path d="M862.4 1010.5 L892 1023.4" stroke-width="9.3" fill="none" stroke="#000" />
<path d="M893.2 1013.1 L916.4 1011.8 L916.4 997.7" stroke-width="5.3" fill="none" stroke="#000" />
<path d="M897.1 1019.5 L904.8 1018.9 L906.1 1026 L898.4 1026.6 Z" stroke-width="4.9" fill="none" stroke="#000" />
<path d="M909.9 1020.8 L920.2 1017.6 L920.9 1022.1 L911.2 1025.3 Z" stroke-width="4.7" fill="none" stroke="#000" />
<path d="M893.2 1028.5 L903.5 1033.7 L920.2 1041.4" stroke-width="5.3" fill="none" stroke="#000" />
<path d="M911.2 1032.4 L918.9 1030.5 L918.9 1035.6 Z" stroke-width="4.5" fill="none" stroke="#000" />
<path d="M521.7 781.7 L560.1 776.7 L571.8 779.2" stroke-width="5.3" fill="none" stroke="#000" />
<path d="M571.8 779.2 C573.2 780.5 577.7 783.5 580.2 786.7 C582.7 789.9 584.6 793.4 586.9 798.4 C589.1 803.4 592.4 813.7 593.5 816.8" stroke-width="5.3" fill="none" stroke="#000" />
<path d="M560.1 781.7 L523.4 800.1" stroke-width="5.3" fill="none" stroke="#000" />
<path d="M523.4 800.1 C524.5 802.6 527.5 809.8 530.1 815.1 C532.6 820.4 536.2 827.1 538.4 831.8 C540.6 836.6 541.2 838 543.4 843.5 C545.6 849.1 550.4 861.6 551.8 865.3" stroke-width="5.3" fill="none" stroke="#000" />
<path d="M521.7 821.8 L526.7 826.8 L532.6 840.2 L531.7 856.9 L525 858.6 L523.4 843.5 Z" stroke-width="2" fill="#000" stroke="#000" />
<path d="M533.4 856.9 L535.1 877" stroke-width="4.8" fill="none" stroke="#000" />
<path d="M538.4 863.6 L545.1 861.1 L545.9 866.9 L539.2 869.4 Z" stroke-width="4.3" fill="none" stroke="#000" />
<path d="M541.7 833.5 C543.4 833.8 549 834.4 551.8 835.2 C554.6 836 555.1 839.1 558.5 838.5 C561.8 838 568.5 834.2 571.8 831.8 C575.2 829.5 574.9 826.6 578.5 824.3 C582.1 822.1 588.5 819.9 593.5 818.5 C598.6 817.1 603.3 815.7 608.6 816 C613.9 816.3 622.5 819.5 625.3 820.2" stroke-width="6.3" fill="none" stroke="#000" />
<path d="M625.3 820.2 C628.4 822.1 637.8 827.9 643.7 831.8 C649.5 835.7 654.8 839.6 660.4 843.5 C665.9 847.4 674.3 853.3 677.1 855.2" stroke-width="7.5" fill="none" stroke="#000" />
<path d="M677.1 855.2 L680.4 858.6 L677.1 866.9 L677.1 875.3 L685.4 880.3 L695.5 883.6 L697.1 873.6 L702.1 871.9 L710.5 877 L715.5 880.3" stroke-width="7.3" fill="none" stroke="#000" />
<path d="M541.7 840.2 L553.4 841.9 L556.8 846.9 L580.2 836.9 L581.8 830.2" stroke-width="5.5" fill="none" stroke="#000" />
<path d="M581.8 830.2 C583.8 829.5 589.1 827.1 593.5 826 C598 824.9 606.1 823.9 608.6 823.5" stroke-width="5.5" fill="none" stroke="#000" />
<path d="M610.3 823.5 L610.3 866.9" stroke-width="5.8" fill="none" stroke="#000" />
<path d="M538.4 875.3 L551.8 868.6 L591.9 853.6 L593.5 850.2 L600.2 846.9 L610.3 846.9" stroke-width="5.8" fill="none" stroke="#000" />
<path d="M610.3 846.9 L623.6 851.1 L640.3 862.8 L657 867.8 L660.4 877 L670.4 885.3 L682.1 892 L683.8 898.7" stroke-width="9.3" fill="none" stroke="#000" />
<path d="M608.6 866.9 L627 877 L643.7 887 L652 893.7" stroke-width="6.3" fill="none" stroke="#000" />
<path d="M652 893.7 C652.9 896.5 655.1 904.5 657 910.4 C659 916.2 660.4 923.2 663.7 928.8 C667.1 934.3 672.1 939.9 677.1 943.8 C682.1 947.7 686.8 949.4 693.8 952.1 C700.8 954.9 712.2 959.1 718.9 960.5 C725.5 961.9 731.4 960.5 733.9 960.5" stroke-width="5.1" fill="none" stroke="#000" />
<path d="M652 890.3 C656.2 892 670.7 896.5 677.1 900.4 C683.5 904.2 686.6 907.9 690.5 913.7 C694.3 919.6 697.1 929.6 700.5 935.4 C703.8 941.3 707.4 945.2 710.5 948.8 C713.6 952.4 717.5 955.8 718.9 957.2" stroke-width="4.5" fill="none" stroke="#000" />
<path d="M698.8 885.3 C700.2 888.1 704.1 896.2 707.2 902 C710.2 907.9 714.1 914.6 717.2 920.4 C720.2 926.2 721.1 932.4 725.5 937.1 C730 941.8 740.9 946.9 743.9 948.8" stroke-width="8.8" fill="none" stroke="#000" />
<path d="M725.5 893.7 C726.9 897 730.8 907.9 733.9 913.7 C737 919.6 739.5 925.1 743.9 928.8 C748.4 932.4 756.3 934.6 760.6 935.4 C764.9 936.3 768.3 934 769.8 933.8" stroke-width="6.8" fill="none" stroke="#000" />
<path d="M712.2 846.9 L716.3 860.3 L717.2 883.6" stroke-width="5.3" fill="none" stroke="#000" />
<path d="M727.2 875.3 L727.2 893.7" stroke-width="4.9" fill="none" stroke="#000" />
<path d="M551.8 866.9 L591.9 852.7" stroke-width="4.8" fill="none" stroke="#000" />
<path d="M538.4 880.6 L591.9 859.7" stroke-width="4.8" fill="none" stroke="#000" />
<path d="M525 887 L593.5 861.9 L608.6 868.6 L526.7 903.7 Z" stroke-width="2" fill="#000" stroke="#000" />
<path d="M535.1 893.7 L588.5 871.9" stroke-width="1.6" fill="none" stroke="#fff" />
<path d="M543.4 884.5 L590.2 865.6" stroke-width="1.4" fill="none" stroke="#fff" />
<path d="M591.9 853.6 L591.9 866.9" stroke-width="4.8" fill="none" stroke="#000" />
<path d="M601.1 853.6 L601.1 865.3" stroke-width="4.8" fill="none" stroke="#000" />
<path d="M578.5 925.4 L647 893.7" stroke-width="5.8999999999999995" fill="none" stroke="#000" />
<path d="M652.9 960.5 L674.6 948.8" stroke-width="5.8999999999999995" fill="none" stroke="#000" />
<path d="M711.5 847.6 C712.5 849 714.8 852.5 717.3 856 C719.7 859.5 723.1 864.8 726.3 868.8 C729.5 872.9 733.1 876.1 736.6 880.4 C740 884.7 743.4 890.5 746.8 894.6 C750.3 898.6 753.3 901 757.1 904.8 C761 908.7 765.9 913.6 770 917.7 C774 921.8 779.6 927.3 781.5 929.3" stroke-width="6.3" fill="none" stroke="#000" />
<path d="M731.4 863.1 C732.9 864.5 737.4 868.1 740.4 871.4 C743.4 874.7 746.2 879.3 749.4 883 C752.6 886.6 756.3 890.1 759.7 893.3 C763.1 896.5 766.1 899 770 902.3 C773.8 905.5 780.7 910.8 782.8 912.5" stroke-width="6.8" fill="none" stroke="#000" />
<path d="M754.6 879.8 C755.8 880.9 760.1 883.9 762.3 886.8 C764.4 889.7 766.5 895.4 767.4 897.1" stroke-width="4.3" fill="none" stroke="#000" />
<path d="M714.7 857.3 L716.6 880.4 L726.3 886.8 L726.9 876.6" stroke-width="5.3" fill="none" stroke="#000" />
<path d="M696.7 881.7 C696.8 880.2 696.5 874.5 697.4 872.7 C698.2 870.9 699.8 870.6 701.9 870.8 C703.9 871 706.8 870.4 709.6 874 C712.3 877.5 716.4 886.4 718.6 892 C720.7 897.5 720.3 902.5 722.4 907.4 C724.6 912.3 727.8 917.7 731.4 921.5 C735.1 925.4 740 928.4 744.3 930.5 C748.6 932.7 755 933.8 757.1 934.4" stroke-width="9.3" fill="none" stroke="#000" />
<path d="M680 881.7 C681.3 882.6 684.5 885.1 687.7 886.8 C690.9 888.6 696.3 888.6 699.3 892 C702.3 895.4 703.4 901.8 705.7 907.4 C708.1 913 710.4 920.3 713.4 925.4 C716.4 930.5 719.4 934.6 723.7 938.3 C728 941.9 735.7 944.7 739.1 947.2 C742.6 949.8 743.4 952.6 744.3 953.7" stroke-width="9.3" fill="none" stroke="#000" />
<path d="M680 904.8 C681.7 906.8 687.1 911.3 690.3 916.4 C693.5 921.5 695.6 929.9 699.3 935.7 C702.9 941.5 706.8 946.2 712.1 951.1 C717.5 956 728.2 962.9 731.4 965.2" stroke-width="7.3" fill="none" stroke="#000" />
<path d="M680 943.4 C682.1 944.5 687.1 947.5 692.9 949.8 C698.6 952.2 711.1 956.2 714.7 957.5" stroke-width="5.8" fill="none" stroke="#000" />
<path d="M725 894.6 C726.1 895.8 728.2 899.7 731.4 902.3 C734.6 904.8 740.8 908.9 744.3 910 C747.7 911 750.7 908.9 752 908.7" stroke-width="4.3" fill="none" stroke="#000" />
<path d="M759.7 931.8 L770 930.5 L799.5 941.5 L798.3 946 L793.1 947.2 L764.8 939.5 Z" stroke-width="5.8" fill="#000" stroke="#000" />
<path d="M764.2 938.9 L791.8 946.6 L790.5 945.3 L764.8 940.2 Z" stroke-width="2" fill="#fff" stroke="#fff" />
<path d="M744.3 948.5 L763.5 943.4 L782.8 952.4 L776.4 957.5 L746.8 948.5 Z" stroke-width="5.3" fill="#000" stroke="#000" />
<path d="M700.6 976.2 L722.4 980" stroke-width="6.3" fill="none" stroke="#000" />
<path d="M610.6 252.7 C615.5 254.3 632.5 259.8 640 262.3 C647.5 264.8 652.2 266.9 655.6 267.5 C659 268.1 659.4 268.7 660.2 266 C661 263.3 660.4 256.1 660.4 251.4 C660.4 246.7 659.7 241.2 660.4 238 C661.1 234.8 662.3 233.7 664.5 232.5 C666.7 231.3 667.3 231.5 673.5 230.6 C679.7 229.7 694.1 227.5 701.8 227 C709.5 226.5 715.1 226.8 719.8 227.6 C724.5 228.4 727.1 229.8 730.1 232.1 C733.1 234.3 735 237.2 737.8 241.1 C740.6 245 744 251.7 746.8 255.3 C749.6 258.9 749.8 260.5 754.5 263 C759.2 265.5 770.4 267.5 775.1 270.1 C779.8 272.7 780.7 275.5 782.8 278.4 C784.9 281.3 785.1 282.1 787.9 287.4 C790.6 292.7 795.2 301.5 799.3 310.3 C803.4 319.1 808.2 329.9 812.6 340.4 C817 350.8 821.4 362.1 825.6 373 C829.9 383.9 833.9 394.3 838.1 405.6 C842.3 416.9 846.9 429.9 850.7 440.7 C854.5 451.5 857.1 457.5 861 470.4 C864.9 483.3 870.1 503.8 873.8 518 C877.5 532.2 880.2 541.8 883.1 555.6 C886 569.4 889.1 586.3 891.4 600.7 C893.7 615.1 895.6 626.2 897.1 642 C898.6 657.8 898.2 669.6 900.2 695.2 C902.2 720.8 906.3 766.2 908.9 795.4 C911.5 824.6 914.2 853.2 915.7 870.6 C917.2 888 916.7 883.6 918 900 C919.3 916.4 921.3 944.9 923.6 968.9 C925.9 992.9 929.4 1022.6 931.8 1044.1 C934.2 1065.6 937.5 1086.5 938.1 1098 C938.7 1109.5 937.7 1108.8 935.6 1113 C933.5 1117.2 929.6 1121.1 925.6 1123.1 C921.6 1125.1 920.2 1126.4 911.8 1124.8 C903.4 1123.2 889 1118.2 875.4 1113.5 C861.8 1108.8 841.1 1100.5 830.3 1096.7 C819.4 1093 815.7 1092 810.3 1091 C804.9 1090 802.7 1089.8 797.7 1090.5 C792.7 1091.2 786 1094.2 780.2 1095 C774.4 1095.8 768.8 1097.3 762.7 1095.5 C756.7 1093.7 747 1086.1 743.9 1084.2" stroke-width="16.6" stroke="#000" stroke-linecap="round"/>
<path d="M610.6 252.7 C615.5 254.3 632.5 259.8 640 262.3 C647.5 264.8 652.2 266.9 655.6 267.5 C659 268.1 659.4 268.7 660.2 266 C661 263.3 660.4 256.1 660.4 251.4 C660.4 246.7 659.7 241.2 660.4 238 C661.1 234.8 662.3 233.7 664.5 232.5 C666.7 231.3 667.3 231.5 673.5 230.6 C679.7 229.7 694.1 227.5 701.8 227 C709.5 226.5 715.1 226.8 719.8 227.6 C724.5 228.4 727.1 229.8 730.1 232.1 C733.1 234.3 735 237.2 737.8 241.1 C740.6 245 744 251.7 746.8 255.3 C749.6 258.9 749.8 260.5 754.5 263 C759.2 265.5 770.4 267.5 775.1 270.1 C779.8 272.7 780.7 275.5 782.8 278.4 C784.9 281.3 785.1 282.1 787.9 287.4 C790.6 292.7 795.2 301.5 799.3 310.3 C803.4 319.1 808.2 329.9 812.6 340.4 C817 350.8 821.4 362.1 825.6 373 C829.9 383.9 833.9 394.3 838.1 405.6 C842.3 416.9 846.9 429.9 850.7 440.7 C854.5 451.5 857.1 457.5 861 470.4 C864.9 483.3 870.1 503.8 873.8 518 C877.5 532.2 880.2 541.8 883.1 555.6 C886 569.4 889.1 586.3 891.4 600.7 C893.7 615.1 895.6 626.2 897.1 642 C898.6 657.8 898.2 669.6 900.2 695.2 C902.2 720.8 906.3 766.2 908.9 795.4 C911.5 824.6 914.2 853.2 915.7 870.6 C917.2 888 916.7 883.6 918 900 C919.3 916.4 921.3 944.9 923.6 968.9 C925.9 992.9 929.4 1022.6 931.8 1044.1 C934.2 1065.6 937.5 1086.5 938.1 1098 C938.7 1109.5 937.7 1108.8 935.6 1113 C933.5 1117.2 929.6 1121.1 925.6 1123.1 C921.6 1125.1 920.2 1126.4 911.8 1124.8 C903.4 1123.2 889 1118.2 875.4 1113.5 C861.8 1108.8 841.1 1100.5 830.3 1096.7 C819.4 1093 815.7 1092 810.3 1091 C804.9 1090 802.7 1089.8 797.7 1090.5 C792.7 1091.2 786 1094.2 780.2 1095 C774.4 1095.8 768.8 1097.3 762.7 1095.5 C756.7 1093.7 747 1086.1 743.9 1084.2" stroke-width="5.8" stroke="#fff" stroke-linecap="round"/>
<path d="M915.8 218.4 L918 216.2 L921.5 216.6 L924.1 218.4 L925.4 221.9 L925.8 226.7 L923.3 228.4 L920.2 228.4" stroke-width="4.3" fill="none" stroke="#000" />
<path d="M965.3 341.4 L967.5 339.2 L971 339.6 L973.6 341.4 L974.9 344.9 L975.3 349.7 L972.8 351.4 L969.7 351.4" stroke-width="4.3" fill="none" stroke="#000" />
<path d="M1000.3 461.9 L1002.5 459.7 L1006 460.1 L1008.6 461.9 L1009.9 465.4 L1010.3 470.2 L1007.8 471.9 L1004.7 471.9" stroke-width="4.3" fill="none" stroke="#000" />
<path d="M1017 638 L1019.2 635.8 L1022.7 636.2 L1025.3 638 L1026.6 641.5 L1027 646.3 L1024.5 648 L1021.4 648" stroke-width="4.3" fill="none" stroke="#000" />
<path d="M1018.3 842.9 L1020.5 840.7 L1024 841.1 L1026.6 842.9 L1027.9 846.4 L1028.3 851.2 L1025.8 852.9 L1022.7 852.9" stroke-width="4.3" fill="none" stroke="#000" />
<path d="M1031 1037 L1033.3 1034.7 L1037 1035.1 L1039.8 1037 L1041.1 1040.7 L1041.6 1045.8 L1038.9 1047.6 L1035.7 1047.6" stroke-width="4.3" fill="none" stroke="#000" />
<path d="M964.6 1019.2 L966.7 1017.2 L970 1017.6 L972.5 1019.2 L973.7 1022.5 L974.1 1027.1 L971.7 1028.7 L968.8 1028.7" stroke-width="4.3" fill="none" stroke="#000" />
<path d="M1516.1 387 L1521.3 387 L1521.3 415.2 L1515 415.2 L1515 396.9 L1508.8 396.9 L1508.8 392 L1512.7 392 L1515 389.7 Z" stroke-width="0.4" fill="#000" stroke="#000" />
<ellipse cx="611.8" cy="253.3" rx="4.2" ry="6.2" transform="rotate(-72 611.8 253.3)" fill="#000" stroke="none" stroke-width="0"/>
</svg>
<div id="l1" class="t serif" style="left:35px;top:963.5px;font-size:50px;">(1) Door Frame</div>
<div id="l2" class="t serif" style="left:35px;top:1032px;font-size:50px;">(2) G302</div>
<div id="gid" class="t sans" style="left:37.5px;top:1146.8px;font-size:27.2px;transform-origin:0 0;transform:scaleX(0.92);">G00261855</div>
<div id="n2" class="t sans" style="left:491.8px;top:672.5px;font-size:42px;font-weight:bold;transform-origin:0 0;transform:scaleX(1.08);">2</div>
</body></html>
